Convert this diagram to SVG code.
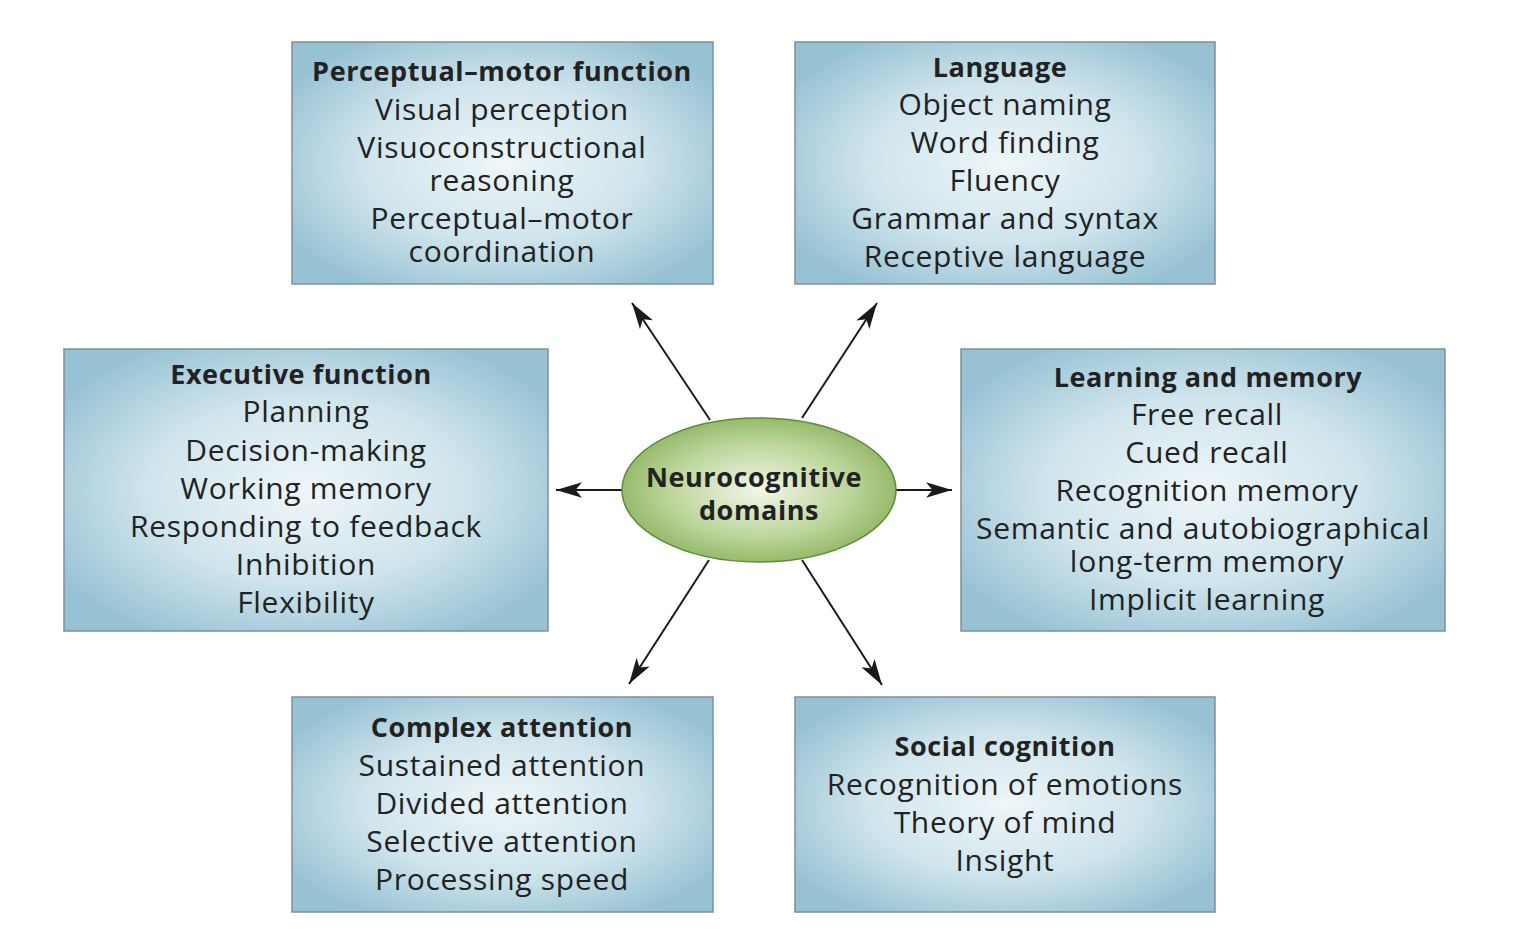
<svg xmlns="http://www.w3.org/2000/svg" width="1536" height="937" viewBox="0 0 1536 937">
<defs>
<radialGradient id="bg" cx="50%" cy="50%" r="60%"><stop offset="0" stop-color="#eef6f8"/><stop offset="0.55" stop-color="#cfe4ec"/><stop offset="1" stop-color="#97c2d4"/></radialGradient>
<radialGradient id="gg" cx="50%" cy="50%" r="55%"><stop offset="0" stop-color="#f2f6e8"/><stop offset="0.6" stop-color="#bcd59a"/><stop offset="1" stop-color="#8cb35e"/></radialGradient>
<marker id="a" viewBox="0 0 20 12" refX="20" refY="6" markerWidth="26" markerHeight="16" markerUnits="userSpaceOnUse" orient="auto"><path d="M0,0 L20,6 L0,12 L5,6 Z" fill="#1a1a1a"/></marker>
</defs>
<style>
.box{fill:url(#bg);stroke:#7d9098;stroke-width:1.5}
text{font-family:"Open Sans","DejaVu Sans",sans-serif;font-size:30px;letter-spacing:0.7px;fill:#222;text-anchor:middle}
.h{font-weight:bold;font-size:27px;letter-spacing:0.6px}
.c line{stroke:#1a1a1a;stroke-width:2;marker-end:url(#a)}
</style>
<rect width="1536" height="937" fill="#fff"/>
<g class="c" id="connectors">
<line x1="710" y1="420" x2="632" y2="303"/>
<line x1="802" y1="418" x2="877" y2="303"/>
<line x1="622" y1="490" x2="556" y2="490"/>
<line x1="896" y1="490" x2="952" y2="490"/>
<line x1="709" y1="560" x2="629" y2="684"/>
<line x1="802" y1="560" x2="882" y2="685"/>
</g>
<g id="pm"><rect class="box" x="292" y="42" width="421" height="242"/>
<text class="h" x="502" y="81">Perceptual–motor function</text>
<text x="502" y="120">Visual perception</text><text x="502" y="158">Visuoconstructional</text><text x="502" y="191">reasoning</text><text x="502" y="229">Perceptual–motor</text><text x="502" y="262">coordination</text></g>
<g id="lang"><rect class="box" x="795" y="42" width="420" height="242"/>
<text class="h" x="1000" y="77">Language</text>
<text x="1005" y="115">Object naming</text><text x="1005" y="153">Word finding</text><text x="1005" y="191">Fluency</text><text x="1005" y="229">Grammar and syntax</text><text x="1005" y="267">Receptive language</text></g>
<g id="exec"><rect class="box" x="64" y="349" width="484" height="282"/>
<text class="h" x="301" y="384">Executive function</text>
<text x="306" y="422">Planning</text><text x="306" y="461">Decision-making</text><text x="306" y="499">Working memory</text><text x="306" y="537">Responding to feedback</text><text x="306" y="575">Inhibition</text><text x="306" y="613">Flexibility</text></g>
<g id="lm"><rect class="box" x="961" y="349" width="484" height="282"/>
<text class="h" x="1208" y="387">Learning and memory</text>
<text x="1207" y="425">Free recall</text><text x="1207" y="463">Cued recall</text><text x="1207" y="501">Recognition memory</text><text x="1203" y="539">Semantic and autobiographical</text><text x="1207" y="572">long-term memory</text><text x="1207" y="610">Implicit learning</text></g>
<g id="ca"><rect class="box" x="292" y="697" width="421" height="215"/>
<text class="h" x="502" y="737">Complex attention</text>
<text x="502" y="776">Sustained attention</text><text x="502" y="814">Divided attention</text><text x="502" y="852">Selective attention</text><text x="502" y="890">Processing speed</text></g>
<g id="sc"><rect class="box" x="795" y="697" width="420" height="215"/>
<text class="h" x="1005" y="756">Social cognition</text>
<text x="1005" y="795">Recognition of emotions</text><text x="1005" y="833">Theory of mind</text><text x="1005" y="871">Insight</text></g>
<g id="center"><ellipse cx="759" cy="490" rx="137" ry="72" fill="url(#gg)" stroke="#5f8a3a" stroke-width="1.5"/>
<text class="h" x="754" y="487">Neurocognitive</text><text class="h" x="759" y="520">domains</text></g>
</svg>
